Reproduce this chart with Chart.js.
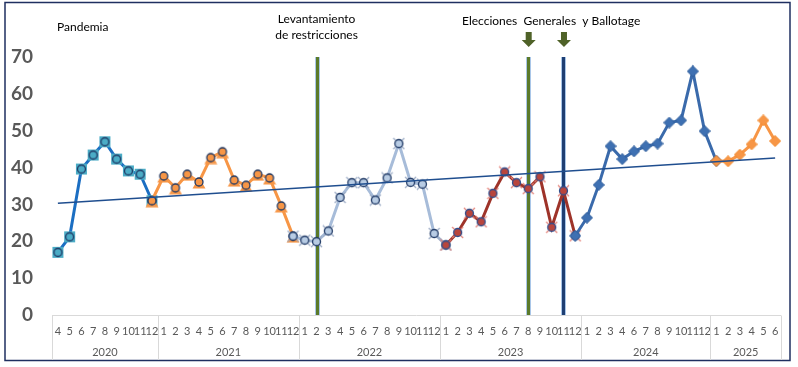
<!DOCTYPE html>
<html>
<head>
<meta charset="utf-8">
<script src="https://cdn.jsdelivr.net/npm/chart.js@4"></script>
<style>
  html, body { margin: 0; padding: 0; background: #fff; }
  #wrap { width: 798px; height: 367px; }
</style>
</head>
<body>
<div id="wrap"><canvas id="chart" width="798" height="367"></canvas></div>
<script>
// month tick labels per year (2024 has no month 5 in the source)
const years = ['2020', '2021', '2022', '2023', '2024', '2025'];
const months2020 = ['4', '5', '6', '7', '8', '9', '10', '11', '12'];
const months2021 = ['1', '2', '3', '4', '5', '6', '7', '8', '9', '10', '11', '12'];
const months2022 = ['1', '2', '3', '4', '5', '6', '7', '8', '9', '10', '11', '12'];
const months2023 = ['1', '2', '3', '4', '5', '6', '7', '8', '9', '10', '11', '12'];
const months2024 = ['1', '2', '3', '4', '6', '7', '8', '9', '10', '11', '12'];
const months2025 = ['1', '2', '3', '4', '5', '6'];

// values
const values2020 = [17.0, 21.2, 39.6, 43.4, 47.0, 42.3, 39.1, 38.2, 31.0];
const values2021 = [37.7, 34.5, 38.2, 36.1, 42.7, 44.3, 36.6, 35.2, 38.2, 37.2, 29.6, 21.4];
const values2022 = [20.3, 19.9, 22.8, 31.9, 35.9, 35.9, 31.2, 37.2, 46.5, 36.0, 35.5, 22.1];
const values2023 = [19.0, 22.4, 27.6, 25.3, 33.0, 38.8, 35.9, 34.3, 37.5, 23.8, 33.7, 21.5];
const values2024 = [26.4, 35.3, 45.8, 42.3, 44.4, 45.8, 46.5, 52.2, 52.8, 66.1, 49.9];
const values2025 = [41.8, 41.7, 43.5, 46.3, 52.8, 47.2];

// linear trend end points
const trendStart = 30.3;
const trendEnd = 42.6;

const yTicks = [0, 10, 20, 30, 40, 50, 60, 70];

const monthGroups = [months2020, months2021, months2022, months2023, months2024, months2025];
const labels = monthGroups.flat();
const allValues = [values2020, values2021, values2022, values2023, values2024, values2025].flat();

// event markers (category index in labels)
const idxLevantamiento = 22; // 2022-2
const idxGenerales = 40;     // 2023-8
const idxBallotage = 43;     // 2023-11

function marker(size, draw) {
  const c = document.createElement('canvas');
  c.width = size; c.height = size;
  draw(c.getContext('2d'), size / 2);
  return c;
}
function ring(g, m, fill, stroke) {
  g.beginPath();
  g.arc(m, m, 4, 0, Math.PI * 2);
  g.fillStyle = fill; g.fill();
  g.lineWidth = 1.3; g.strokeStyle = stroke; g.stroke();
}
function cross(g, s, color) {
  g.strokeStyle = color; g.lineWidth = 1.2;
  g.beginPath();
  g.moveTo(1, 1); g.lineTo(s - 1, s - 1);
  g.moveTo(s - 1, 1); g.lineTo(1, s - 1);
  g.stroke();
}
function diamond(g, m, fill, stroke) {
  g.beginPath();
  g.moveTo(m, 0.5); g.lineTo(2 * m - 0.5, m); g.lineTo(m, 2 * m - 0.5); g.lineTo(0.5, m);
  g.closePath();
  g.fillStyle = fill; g.fill();
  g.lineWidth = 1; g.strokeStyle = stroke; g.stroke();
}

const mk2020 = marker(13, (g, m) => {
  g.fillStyle = '#4bacc6'; g.fillRect(1, 1, 11, 11);
  ring(g, m, '#4bacc6', '#1f3864');
});
const mk2021 = marker(14, (g, m) => {
  g.beginPath(); g.moveTo(m, 2); g.lineTo(13.5, 13.5); g.lineTo(0.5, 13.5); g.closePath();
  g.fillStyle = '#f79646'; g.fill();
  ring(g, m, '#f79646', '#1f3864');
});
const mk2022 = marker(13, (g, m) => {
  cross(g, 13, '#9aaac4');
  ring(g, m, '#b8cce4', '#1f3864');
});
const mk2023 = marker(13, (g, m) => {
  cross(g, 13, '#e4837a');
  ring(g, m, '#b9453c', '#2f4f8f');
});
const mk2024 = marker(12, (g, m) => diamond(g, m, '#3e70b2', '#2e5d9a'));
const mk2025 = marker(12, (g, m) => diamond(g, m, '#f79646', '#f28a2e'));

function slice(from, to) {
  return allValues.map((v, i) => (i >= from && i <= to ? v : null));
}
function series(from, to, color, style, order) {
  return {
    data: slice(from, to),
    borderColor: color,
    backgroundColor: color,
    borderWidth: 3,
    tension: 0,
    pointStyle: style,
    pointRadius: 6,
    order: order
  };
}

const last = labels.length - 1;
const trendData = labels.map((_, i) => (i === 0 ? trendStart : i === last ? trendEnd : null));

const decorations = {
  id: 'decorations',
  beforeDatasetsDraw(chart) {
    const { ctx, chartArea, scales: { x } } = chart;
    const vline = (idx, color) => {
      const px = Math.round(x.getPixelForValue(idx)) + 0.5;
      ctx.save();
      ctx.lineWidth = 5; ctx.strokeStyle = '#a9c6e8';
      ctx.beginPath(); ctx.moveTo(px, chartArea.top); ctx.lineTo(px, chartArea.bottom); ctx.stroke();
      ctx.lineWidth = 3; ctx.strokeStyle = color;
      ctx.beginPath(); ctx.moveTo(px, chartArea.top); ctx.lineTo(px, chartArea.bottom); ctx.stroke();
      ctx.restore();
    };
    vline(idxLevantamiento, '#5b7a2a');
    vline(idxGenerales, '#5b7a2a');
    vline(idxBallotage, '#1f3f73');
  },
  afterDraw(chart) {
    const { ctx, chartArea, scales: { x } } = chart;
    ctx.save();
    // outer frame
    ctx.strokeStyle = '#1f2f60'; ctx.lineWidth = 1.5;
    ctx.strokeRect(5, 2.5, 785, 358);

    // category box
    const top = chartArea.bottom + 0.5, bottom = 360;
    ctx.strokeStyle = '#d9d9d9'; ctx.lineWidth = 1;
    ctx.beginPath(); ctx.moveTo(x.left, top); ctx.lineTo(x.right, top); ctx.stroke();
    let start = 0;
    const edges = [x.left];
    monthGroups.forEach(g => {
      const end = start + g.length - 1;
      const right = end === last ? x.right : (x.getPixelForValue(end) + x.getPixelForValue(end + 1)) / 2;
      edges.push(right);
      start = end + 1;
    });
    edges.forEach(e => {
      const px = Math.round(e) + 0.5;
      ctx.beginPath(); ctx.moveTo(px, top); ctx.lineTo(px, bottom); ctx.stroke();
    });
    ctx.fillStyle = '#595959';
    ctx.font = '11px Lato';
    ctx.textAlign = 'center'; ctx.textBaseline = 'middle';
    years.forEach((y, i) => ctx.fillText(y, (edges[i] + edges[i + 1]) / 2, 352));

    // annotations
    ctx.fillStyle = '#000';
    ctx.font = '12px Lato';
    ctx.textAlign = 'left';
    ctx.fillText('Pandemia', 57, 27);
    ctx.textAlign = 'center';
    const lx = x.getPixelForValue(idxLevantamiento);
    ctx.fillText('Levantamiento', lx, 19);
    ctx.fillText('de restricciones', lx, 35);
    ctx.textAlign = 'left';
    ctx.fillText('Elecciones  Generales  y Ballotage', 462, 21);

    // arrows
    ctx.fillStyle = '#4f6228';
    [idxGenerales, idxBallotage].forEach(idx => {
      const ax = x.getPixelForValue(idx) + 0.5;
      ctx.beginPath();
      ctx.moveTo(ax - 3, 32); ctx.lineTo(ax + 3, 32); ctx.lineTo(ax + 3, 40);
      ctx.lineTo(ax + 7, 40); ctx.lineTo(ax, 47); ctx.lineTo(ax - 7, 40);
      ctx.lineTo(ax - 3, 40); ctx.closePath();
      ctx.fill();
    });
    ctx.restore();
  }
};

new Chart(document.getElementById('chart'), {
  type: 'line',
  data: {
    labels: labels,
    datasets: [
      {
        data: trendData,
        spanGaps: true,
        borderColor: '#1f4e8f',
        borderWidth: 1.6,
        pointRadius: 0,
        order: 0
      },
      series(0, 8, '#1b6ec2', mk2020, 6),
      series(8, 20, '#f79646', mk2021, 5),
      series(20, 33, '#a7bcd9', mk2022, 4),
      series(33, 44, '#9e3329', mk2023, 3),
      series(44, 56, '#3a6aab', mk2024, 2),
      series(56, 61, '#f79646', mk2025, 1)
    ]
  },
  options: {
    responsive: false,
    animation: false,
    layout: { padding: { top: 57, right: 17, bottom: 7, left: 0 } },
    plugins: { legend: { display: false }, tooltip: { enabled: false } },
    scales: {
      x: {
        type: 'category',
        offset: true,
        grid: { display: false, drawTicks: false },
        border: { display: false },
        ticks: {
          autoSkip: false, maxRotation: 0, minRotation: 0,
          padding: 10,
          color: '#595959',
          font: { family: 'Lato', size: 11 }
        },
        afterFit: s => { s.height = 45; }
      },
      y: {
        min: 0, max: 70,
        afterBuildTicks: s => { s.ticks = yTicks.map(v => ({ value: v })); },
        grid: { display: false, drawTicks: false },
        border: { display: false },
        ticks: {
          padding: 19,
          color: '#595959',
          font: { family: 'Lato', size: 19, weight: 'bold' }
        },
        afterFit: s => { s.width = 52; }
      }
    }
  },
  plugins: [decorations]
});
</script>
</body>
</html>
